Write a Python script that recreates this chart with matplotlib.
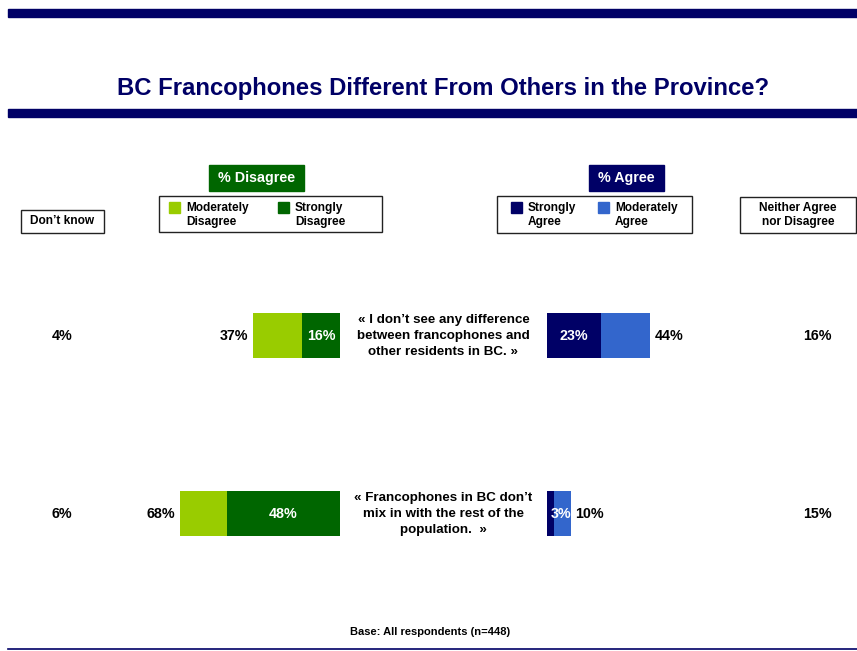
import matplotlib.pyplot as plt
from matplotlib.patches import Rectangle

plt.rcParams['font.family'] = ['Liberation Sans', 'DejaVu Sans']
plt.rcParams['font.weight'] = 'bold'

# data
statements = ['« I don’t see any difference\nbetween francophones and\nother residents in BC. »',
              '« Francophones in BC don’t\nmix in with the rest of the\npopulation.  »']
strongly_disagree = [16, 48]
moderately_disagree = [21, 20]
total_disagree = [37, 68]
strongly_agree = [23, 3]
moderately_agree = [21, 7]
total_agree = [44, 10]
dont_know = [4, 6]
neither = [16, 15]

LIGHT_GREEN = '#99cc00'
DARK_GREEN = '#006600'
NAVY = '#000066'
BLUE = '#3366cc'

W, H = 857, 651
fig = plt.figure(figsize=(W / 100, H / 100), dpi=100)

# overlay in pixel coordinates for the slide decorations
ov = fig.add_axes([0, 0, 1, 1])
ov.set_xlim(0, W)
ov.set_ylim(H, 0)
ov.axis('off')

ov.add_patch(Rectangle((8, 9), W - 8, 8, color=NAVY))
ov.add_patch(Rectangle((8, 109), W - 8, 8, color=NAVY))
ov.plot([8, W], [649, 649], color=NAVY, lw=1.2)
ov.text(443, 89, 'BC Francophones Different From Others in the Province?',
        ha='center', va='center', fontsize=17.2, color=NAVY)
ov.text(430, 632, 'Base: All respondents (n=448)', ha='center', va='center', fontsize=8)

# headers
ov.add_patch(Rectangle((209, 165), 95, 26, color=DARK_GREEN))
ov.text(256.5, 178, '% Disagree', ha='center', va='center', color='white', fontsize=10.3)
ov.add_patch(Rectangle((589, 165), 75, 26, color=NAVY))
ov.text(626.5, 178, '% Agree', ha='center', va='center', color='white', fontsize=10.3)

# legend boxes
def box(x0, y0, w, h):
    ov.add_patch(Rectangle((x0, y0), w, h, fill=False, edgecolor='#222222', lw=1))

box(21, 210, 83, 23)
ov.text(62.5, 221.5, 'Don’t know', ha='center', va='center', fontsize=8.6)

box(159, 196, 223, 36)
box(497, 196, 195, 37)
box(740, 197, 116, 36)
ov.text(798, 215, 'Neither Agree\nnor Disagree', ha='center', va='center',
        fontsize=8.6, linespacing=1.15)

legend_items = [(169, LIGHT_GREEN, 'Moderately\nDisagree'),
                (278, DARK_GREEN, 'Strongly\nDisagree'),
                (511, NAVY, 'Strongly\nAgree'),
                (598, BLUE, 'Moderately\nAgree')]
for lx, col, lab in legend_items:
    ov.add_patch(Rectangle((lx, 202), 11, 11, color=col))
    ov.text(lx + 17, 215, lab, ha='left', va='center', fontsize=8.6, linespacing=1.25)

# bar axes (percent scale)
s = 2.35
ymin, ymax = H, 0
rows_y = [335.5, 513.5]
bar_h = 45

axd = fig.add_axes([(340 - 80 * s) / W, 0, 80 * s / W, 1])
axd.set_xlim(80, 0)
axd.set_ylim(ymin, ymax)
axd.axis('off')
axd.patch.set_alpha(0)

axa = fig.add_axes([547 / W, 0, 80 * s / W, 1])
axa.set_xlim(0, 80)
axa.set_ylim(ymin, ymax)
axa.axis('off')
axa.patch.set_alpha(0)

axd.barh(rows_y, strongly_disagree, height=bar_h, color=DARK_GREEN)
axd.barh(rows_y, moderately_disagree, left=strongly_disagree, height=bar_h, color=LIGHT_GREEN)
axa.barh(rows_y, strongly_agree, height=bar_h, color=NAVY)
axa.barh(rows_y, moderately_agree, left=strongly_agree, height=bar_h, color=BLUE)

fs = 10.3
for i, y in enumerate(rows_y):
    axd.annotate(f'{total_disagree[i]}%', (total_disagree[i], y), xytext=(-3.5, 0),
                 textcoords='offset points', ha='right', va='center', fontsize=fs)
    axd.text(strongly_disagree[i] / 2, y, f'{strongly_disagree[i]}%', ha='center',
             va='center', color='white', fontsize=fs)
    axa.annotate(f'{total_agree[i]}%', (total_agree[i], y), xytext=(3, 0),
                 textcoords='offset points', ha='left', va='center', fontsize=fs)
    if strongly_agree[i] >= 8:
        axa.text(strongly_agree[i] / 2, y, f'{strongly_agree[i]}%', ha='center',
                 va='center', color='white', fontsize=fs)
    else:
        axa.annotate(f'{strongly_agree[i]}%', (0, y), xytext=(3, 0),
                     textcoords='offset points', ha='left', va='center',
                     color='white', fontsize=fs)
    ov.text(443.5, y + 0.5, statements[i], ha='center', va='center', fontsize=9.6,
            linespacing=1.45)
    ov.text(62, y, f'{dont_know[i]}%', ha='center', va='center', fontsize=fs)
    ov.text(817.5, y, f'{neither[i]}%', ha='center', va='center', fontsize=fs)

fig.savefig('out.png', dpi=100)
